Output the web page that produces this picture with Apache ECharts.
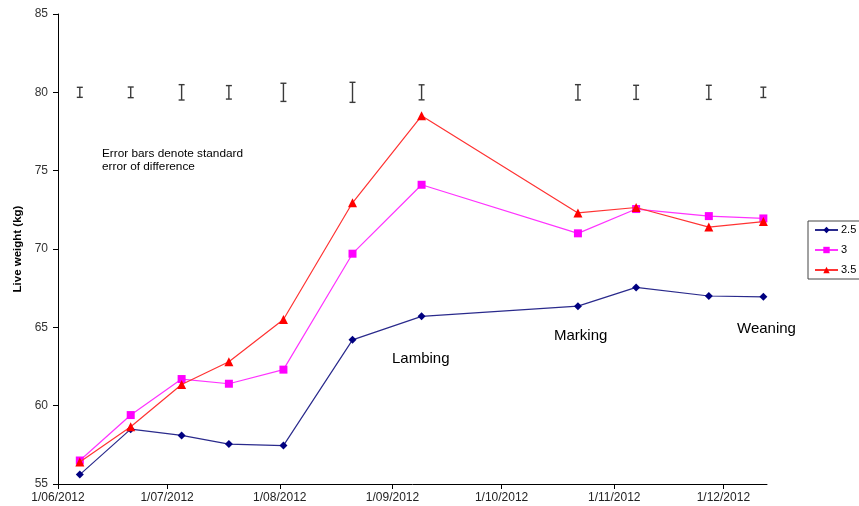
<!DOCTYPE html>
<html>
<head>
<meta charset="utf-8">
<script src="https://cdn.jsdelivr.net/npm/echarts@6/dist/echarts.min.js"></script>
<style>
  html, body { margin: 0; padding: 0; background: #fff; }
  #chart { width: 859px; height: 506px; }
</style>
</head>
<body>
<div id="chart"></div>
<script>
// Weighing dates
const dates = ['2012-06-07', '2012-06-21', '2012-07-05', '2012-07-18', '2012-08-02',
  '2012-08-21', '2012-09-09', '2012-10-22', '2012-11-07', '2012-11-27', '2012-12-12'];

// Mean live weight (kg) per condition score treatment
const ls25 = [55.6, 58.5, 58.1, 57.55, 57.45, 64.2, 65.7, 66.35, 67.55, 67.0, 66.95];
const ls3  = [56.5, 59.4, 61.7, 61.4, 62.3, 69.7, 74.1, 71.0, 72.55, 72.1, 71.95];
const ls35 = [56.4, 58.65, 61.35, 62.8, 65.5, 72.95, 78.5, 72.3, 72.65, 71.4, 71.75];

// Half-length of each SED bar (kg), bars drawn about 80 kg
const sedHalf = [0.32, 0.34, 0.49, 0.43, 0.58, 0.64, 0.48, 0.49, 0.45, 0.45, 0.33];
const sedLevel = 80;

// Month ticks on the date axis
const monthTicks = ['2012-06-01', '2012-07-01', '2012-08-01', '2012-09-01',
  '2012-10-01', '2012-11-01', '2012-12-01'];

// Stage notes
const stageNotes = [
  { text: 'Lambing', x: 392, y: 351 },
  { text: 'Marking', x: 554, y: 328 },
  { text: 'Weaning', x: 737, y: 321 }
];

// Dates are handled as day numbers (UTC) on a plain value axis
const DAY = 86400000;
function toDay(s) {
  const p = s.split('-').map(Number);
  return Date.UTC(p[0], p[1] - 1, p[2]) / DAY;
}
function fmtDate(v) {
  const d = new Date(Math.round(v) * DAY);
  const mm = String(d.getUTCMonth() + 1).padStart(2, '0');
  return d.getUTCDate() + '/' + mm + '/' + d.getUTCFullYear();
}

const tickDays = monthTicks.map(toDay);
const pair = (vals) => dates.map((d, i) => [toDay(d), vals[i]]);
const errData = dates.map((d, i) => [toDay(d), sedLevel, sedHalf[i]]);

const chart = echarts.init(document.getElementById('chart'), null, { renderer: 'canvas' });

const font = 'Liberation Sans, Arial, sans-serif';

chart.setOption({
  animation: false,
  backgroundColor: '#ffffff',
  textStyle: { fontFamily: font },
  grid: { left: 58, right: 92, top: 14, bottom: 22, containLabel: false, outerBoundsMode: 'none' },
  xAxis: {
    type: 'value',
    min: toDay('2012-06-01'),
    max: toDay('2012-12-13'),
    axisLine: { show: true, lineStyle: { color: '#000', width: 1 } },
    axisTick: { show: true, length: 5, customValues: tickDays, lineStyle: { color: '#000' } },
    axisLabel: {
      customValues: tickDays,
      formatter: (v) => fmtDate(v),
      color: '#222',
      fontSize: 12,
      margin: 8,
      fontFamily: font
    },
    splitLine: { show: false }
  },
  yAxis: {
    type: 'value',
    min: 55,
    max: 85,
    interval: 5,
    name: 'Live weight (kg)',
    nameLocation: 'middle',
    nameGap: 34,
    nameTextStyle: { fontWeight: 'bold', fontSize: 11.5, color: '#000', fontFamily: font },
    axisLine: { show: true, lineStyle: { color: '#000', width: 1 } },
    axisTick: { show: true, length: 5, lineStyle: { color: '#000' } },
    axisLabel: { color: '#333', fontSize: 12, margin: 10, fontFamily: font },
    splitLine: { show: false }
  },
  legend: {
    orient: 'vertical',
    left: 808,
    top: 221,
    padding: [2, 6, 2, 6],
    itemGap: 6,
    itemWidth: 23,
    itemHeight: 8,
    borderColor: '#444',
    borderWidth: 1,
    textStyle: { fontSize: 11, color: '#000', padding: [0, 0, 0, -2], lineHeight: 14, height: 14 },
    data: ['2.5', '3', '3.5']
  },
  graphic: [
    {
      type: 'text',
      left: 102,
      top: 147,
      style: {
        text: 'Error bars denote standard\nerror of difference',
        font: '11.8px ' + font,
        fill: '#000',
        lineHeight: 13
      }
    }
  ].concat(stageNotes.map(n => ({
    type: 'text',
    left: n.x,
    top: n.y,
    style: { text: n.text, font: '15px ' + font, fill: '#000' }
  }))),
  series: [
    {
      name: 'SED',
      type: 'custom',
      data: errData,
      z: 1,
      renderItem: function (params, api) {
        const x = api.value(0), y = api.value(1), h = api.value(2);
        const top = api.coord([x, y + h]);
        const bot = api.coord([x, y - h]);
        const cw = 3;
        const st = { stroke: '#3a3a3a', lineWidth: 1.4 };
        return {
          type: 'group',
          children: [
            { type: 'line', shape: { x1: top[0], y1: top[1], x2: bot[0], y2: bot[1] }, style: st },
            { type: 'line', shape: { x1: top[0] - cw, y1: top[1], x2: top[0] + cw, y2: top[1] }, style: st },
            { type: 'line', shape: { x1: bot[0] - cw, y1: bot[1], x2: bot[0] + cw, y2: bot[1] }, style: st }
          ]
        };
      }
    },
    {
      name: '2.5',
      type: 'line',
      data: pair(ls25),
      symbol: 'diamond',
      symbolSize: 8,
      itemStyle: { color: '#000080' },
      lineStyle: { color: '#2a2a8c', width: 1.2 },
      z: 3
    },
    {
      name: '3',
      type: 'line',
      data: pair(ls3),
      symbol: 'rect',
      symbolSize: 8,
      itemStyle: { color: '#ff00ff' },
      lineStyle: { color: '#ff33ff', width: 1.2 },
      z: 4
    },
    {
      name: '3.5',
      type: 'line',
      data: pair(ls35),
      symbol: 'triangle',
      symbolSize: 9,
      itemStyle: { color: '#ff0000' },
      lineStyle: { color: '#ff3333', width: 1.2 },
      z: 5
    }
  ]
});
</script>
</body>
</html>
